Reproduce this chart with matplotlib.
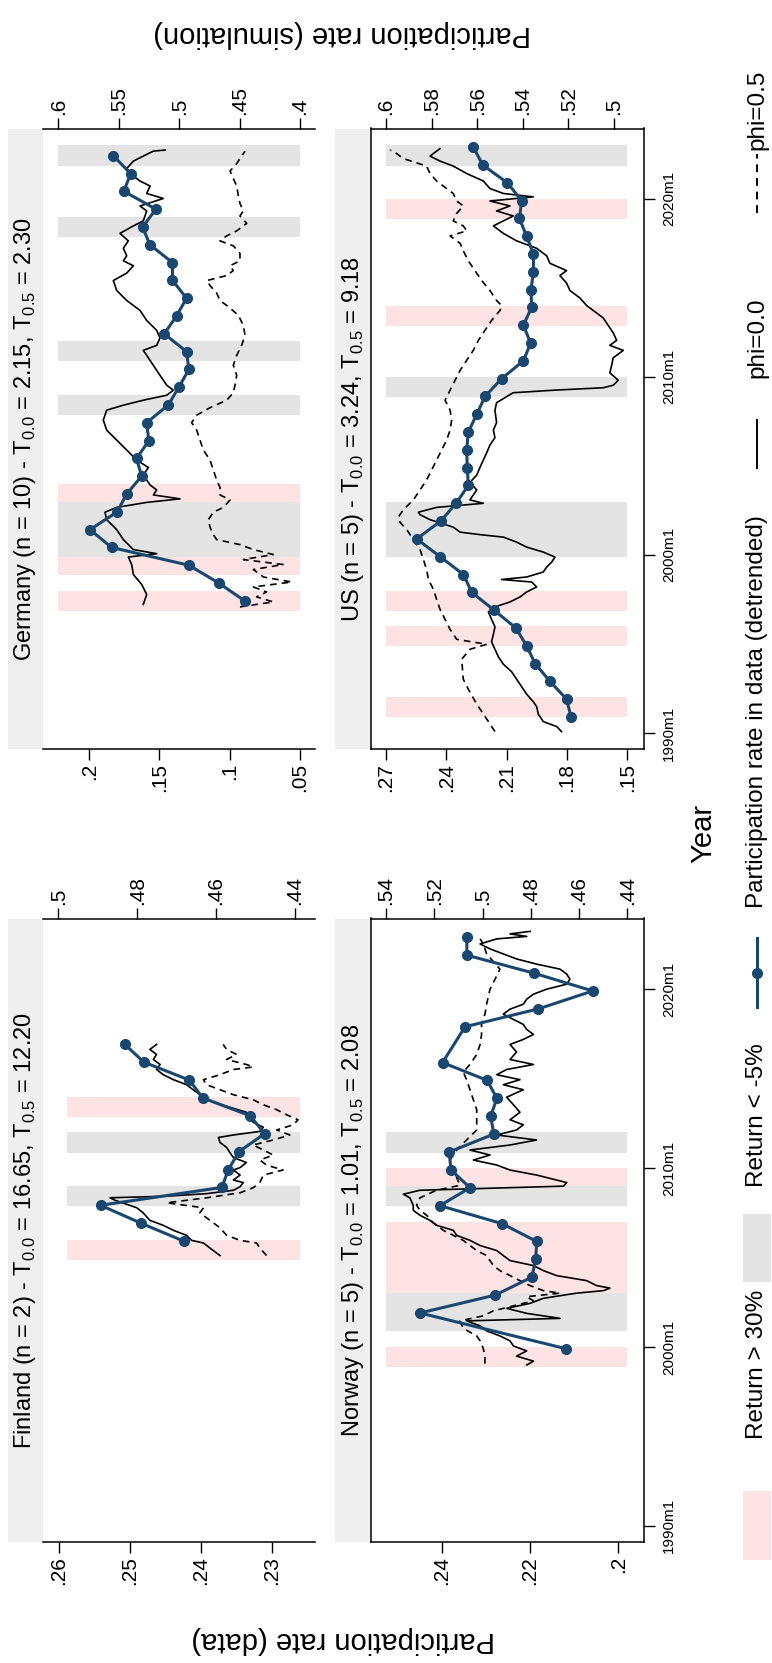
import matplotlib
matplotlib.use('Agg')
import matplotlib.pyplot as plt
from matplotlib.patches import Rectangle
from matplotlib.lines import Line2D

plt.rcParams['font.family'] = ['Liberation Sans', 'DejaVu Sans']

# ---------------- data ----------------
time_ticks = [1990, 2000, 2010, 2020]
time_labels = ['1990m1', '2000m1', '2010m1', '2020m1']

# Germany
de_years = list(range(1997, 2023))
de_data = [.0892, .1077, .1290, .1841, .1995, .1801, .1734, .1627, .1663, .1575, .1592, .1437, .1362,
           .1290, .1307, .1466, .1378, .1307, .1407, .1407, .1568, .1620, .1525, .1753, .1706, .1829]
de_phi0 = [(1997.22,.5297),(1997.78,.5269),(1998.34,.5310),(1998.90,.5379),(1999.46,.5393),(1999.88,.5421),
           (2000.07,.5186),(2000.30,.5379),(2000.86,.5462),(2001.42,.5517),(2001.98,.5600),(2002.40,.5614),
           (2002.67,.5517),(2002.95,.5269),(2003.15,.4993),(2003.37,.5214),(2003.65,.5186),(2003.93,.5241),
           (2004.49,.5297),(2004.91,.5255),(2005.33,.5352),(2005.89,.5434),(2006.45,.5517),(2007.01,.5600),
           (2007.57,.5628),(2008.13,.5600),(2008.41,.5462),(2008.69,.5297),(2008.97,.5103),(2009.25,.5048),
           (2009.53,.5103),(2010.09,.5159),(2010.65,.5214),(2011.21,.5269),(2011.49,.5297),(2011.77,.5186),
           (2012.19,.5159),(2012.61,.5186),(2013.17,.5269),(2013.73,.5324),(2014.29,.5434),(2014.85,.5517),
           (2015.41,.5545),(2015.83,.5434),(2016.24,.5379),(2016.52,.5462),(2016.80,.5434),(2017.22,.5462),
           (2017.64,.5421),(2018.06,.5490),(2018.48,.5379),(2018.76,.5297),(2019.32,.5269),(2019.60,.5324),
           (2020.02,.5131),(2020.30,.5269),(2020.72,.5241),(2021.00,.5324),(2021.28,.5379),(2021.70,.5434),
           (2022.12,.5379),(2022.40,.5297),(2022.68,.5214),(2022.74,.5117)]
de_phi5 = [(1997.08,.4497),(1997.36,.4221),(1997.64,.4359),(1997.92,.4276),(1998.20,.4386),(1998.48,.4069),
           (1998.76,.4303),(1999.18,.4386),(1999.46,.4138),(1999.74,.4469),(2000.02,.4221),(2000.30,.4386),
           (2000.58,.4497),(2000.86,.4690),(2001.14,.4717),(2001.56,.4745),(2001.98,.4759),(2002.40,.4717),
           (2002.67,.4634),(2003.09,.4579),(2003.37,.4662),(2003.79,.4662),(2004.21,.4690),(2004.77,.4717),
           (2005.33,.4745),(2005.89,.4800),(2006.45,.4828),(2007.01,.4855),(2007.43,.4897),(2007.85,.4855),
           (2008.27,.4745),(2008.69,.4607),(2009.11,.4552),(2009.53,.4538),(2010.09,.4524),(2010.65,.4552),
           (2011.21,.4524),(2011.77,.4483),(2012.33,.4455),(2012.89,.4469),(2013.45,.4510),(2013.87,.4579),
           (2014.29,.4662),(2014.71,.4690),(2015.13,.4745),(2015.41,.4772),(2015.69,.4607),(2015.97,.4552),
           (2016.24,.4579),(2016.52,.4497),(2016.94,.4497),(2017.36,.4552),(2017.64,.4662),(2017.92,.4607),
           (2018.20,.4524),(2018.62,.4441),(2019.04,.4497),(2019.32,.4469),(2019.74,.4497),(2020.16,.4510),
           (2020.72,.4524),(2021.14,.4552),(2021.56,.4579),(2021.98,.4524),(2022.26,.4497),(2022.68,.4455)]
de_pink = [1997, 1999, 2003]
de_grey = [2000, 2001, 2002, 2008, 2011, 2018, 2022]

# US
us_years = list(range(1990, 2023))
us_data = [.1780, .1802, .1885, .1959, .2001, .2055, .2163, .2274, .2315, .2431, .2548, .2428, .2352,
           .2291, .2296, .2299, .2291, .2249, .2208, .2125, .2017, .1981, .2017, .1976, .1979, .1967,
           .1967, .2001, .2037, .2025, .2097, .2219, .2266]
us_phi0 = [(1990.08,.5230),(1990.36,.5251),(1990.64,.5310),(1991.06,.5332),(1991.48,.5339),(1991.76,.5354),
           (1992.18,.5383),(1992.60,.5405),(1993.02,.5427),(1993.44,.5449),(1993.86,.5485),(1994.28,.5507),
           (1994.70,.5522),(1995.12,.5537),(1995.54,.5529),(1995.96,.5522),(1996.38,.5537),(1996.80,.5551),
           (1997.08,.5522),(1997.36,.5456),(1997.64,.5412),(1997.92,.5383),(1998.20,.5339),(1998.48,.5361),
           (1998.62,.5493),(1998.76,.5383),(1999.04,.5310),(1999.32,.5295),(1999.60,.5273),(1999.88,.5259),
           (2000.16,.5310),(2000.44,.5383),(2000.72,.5427),(2001.00,.5485),(2001.14,.5588),(2001.28,.5675),
           (2001.56,.5705),(2001.98,.5807),(2002.26,.5851),(2002.40,.5858),(2002.67,.5778),(2002.90,.5573),
           (2003.09,.5632),(2003.37,.5617),(2003.65,.5602),(2004.07,.5632),(2004.49,.5602),(2004.91,.5588),
           (2005.33,.5573),(2005.75,.5558),(2006.17,.5544),(2006.59,.5522),(2007.01,.5529),(2007.43,.5515),
           (2008.13,.5522),(2008.55,.5515),(2009.11,.5442),(2009.25,.5266),(2009.39,.5047),(2009.53,.5003),
           (2009.81,.4981),(2010.23,.5018),(2010.65,.5010),(2011.07,.5003),(2011.49,.4959),(2011.77,.5018),
           (2012.05,.4988),(2012.47,.5003),(2012.89,.5025),(2013.31,.5047),(2013.59,.5076),(2014.01,.5120),
           (2014.43,.5149),(2014.85,.5193),(2015.27,.5208),(2015.69,.5237),(2015.97,.5208),(2016.38,.5281),
           (2016.80,.5295),(2017.22,.5339),(2017.64,.5427),(2018.06,.5485),(2018.48,.5529),(2018.76,.5485),
           (2019.04,.5442),(2019.32,.5515),(2019.60,.5456),(2019.88,.5544),(2020.11,.5354),(2020.30,.5485),
           (2020.58,.5544),(2021.00,.5573),(2021.42,.5646),(2021.84,.5705),(2022.12,.5763),(2022.40,.5807),
           (2022.68,.5778),(2022.82,.5763)]
us_phi5 = [(1990.08,.5522),(1990.78,.5558),(1991.62,.5602),(1992.46,.5639),(1993.02,.5661),(1994.14,.5668),
           (1994.70,.5632),(1994.98,.5558),(1995.26,.5690),(1995.82,.5719),(1996.38,.5741),(1996.94,.5763),
           (1997.50,.5778),(1998.06,.5792),(1998.62,.5814),(1999.18,.5822),(1999.74,.5836),(2000.30,.5851),
           (2000.86,.5880),(2001.42,.5909),(2001.84,.5939),(2002.12,.5946),(2002.54,.5924),(2003.09,.5880),
           (2003.65,.5851),(2004.21,.5822),(2004.77,.5800),(2005.33,.5778),(2005.89,.5756),(2006.45,.5734),
           (2007.01,.5719),(2007.57,.5712),(2008.13,.5719),(2008.69,.5741),(2009.25,.5719),(2009.81,.5697),
           (2010.37,.5675),(2010.93,.5646),(2011.49,.5617),(2012.05,.5595),(2012.61,.5566),(2013.17,.5537),
           (2013.73,.5500),(2014.01,.5493),(2014.29,.5515),(2014.85,.5544),(2015.41,.5580),(2015.97,.5610),
           (2016.52,.5639),(2017.08,.5661),(2017.50,.5675),(2017.92,.5719),(2018.20,.5646),(2018.48,.5661),
           (2018.76,.5705),(2019.18,.5690),(2019.60,.5661),(2019.88,.5690),(2020.30,.5705),(2020.72,.5749),
           (2021.00,.5778),(2021.42,.5807),(2021.84,.5822),(2022.26,.5924),(2022.54,.5953),(2022.74,.5982)]
us_pink = [1991, 1995, 1997, 2013, 2019]
us_grey = [2000, 2001, 2002, 2009, 2022]

# Finland
fi_years = list(range(2005, 2017))
fi_data = [.2424, .2484, .2541, .2370, .2361, .2346, .2310, .2330, .2397, .2416, .2480, .2507]
fi_phi0 = [(2005.11,.4590),(2005.39,.4607),(2005.81,.4632),(2005.96,.4662),(2006.24,.4675),(2006.52,.4708),
           (2006.80,.4734),(2007.08,.4768),(2007.50,.4785),(2007.78,.4801),(2008.20,.4856),(2008.34,.4869),
           (2008.43,.4725),(2008.57,.4624),(2008.76,.4556),(2008.96,.4539),(2009.19,.4531),(2009.33,.4556),
           (2009.61,.4539),(2009.89,.4556),(2010.03,.4539),(2010.31,.4523),(2010.59,.4556),(2010.87,.4565),
           (2011.15,.4573),(2011.43,.4590),(2011.71,.4594),(2011.85,.4556),(2012.05,.4489),(2012.28,.4480),
           (2012.56,.4506),(2012.84,.4514),(2013.12,.4523),(2013.40,.4565),(2013.68,.4607),(2014.10,.4641),
           (2014.38,.4658),(2014.66,.4675),(2014.94,.4708),(2015.22,.4734),(2015.51,.4751),(2015.79,.4742),
           (2016.07,.4759),(2016.35,.4751),(2016.63,.4768),(2016.91,.4751)]
fi_phi5 = [(2005.11,.4472),(2005.53,.4489),(2005.81,.4497),(2005.96,.4539),(2006.24,.4573),(2006.66,.4590),
           (2006.94,.4607),(2007.22,.4624),(2007.50,.4641),(2007.78,.4632),(2008.06,.4725),(2008.34,.4624),
           (2008.62,.4539),(2008.90,.4506),(2009.19,.4489),(2009.61,.4480),(2009.89,.4430),(2010.17,.4472),
           (2010.45,.4489),(2010.73,.4455),(2011.01,.4480),(2011.29,.4506),(2011.57,.4455),(2011.85,.4413),
           (2012.13,.4446),(2012.42,.4404),(2012.70,.4392),(2012.98,.4421),(2013.26,.4446),(2013.54,.4480),
           (2013.82,.4506),(2014.10,.4556),(2014.38,.4590),(2014.66,.4624),(2014.94,.4632),(2015.22,.4590),
           (2015.51,.4556),(2015.65,.4506),(2015.79,.4523),(2016.07,.4573),(2016.35,.4548),(2016.63,.4573),
           (2016.91,.4582)]
fi_pink = [2005, 2013]
fi_grey = [2008, 2011]

# Norway
no_years = [1999] + list(range(2001, 2016)) + list(range(2017, 2023))
no_data = [.2118, .2449, .2279, .2196, .2187, .2185, .2264, .2404, .2336, .2379, .2383, .2282, .2289,
           .2275, .2297, .2398, .2347, .2181, .2058, .2192, .2343, .2343]
no_phi0 = [(1998.99,.4817),(1999.21,.4789),(1999.49,.4859),(1999.78,.4817),(2000.06,.4872),(2000.34,.4886),
           (2000.62,.4928),(2000.90,.4983),(2001.18,.5010),(2001.46,.5066),(2001.60,.4679),(2001.88,.4817),
           (2002.16,.4900),(2002.44,.4803),(2002.72,.4748),(2003.01,.4610),(2003.15,.4499),(2003.29,.4472),
           (2003.43,.4527),(2003.71,.4569),(2003.99,.4693),(2004.27,.4748),(2004.55,.4789),(2004.83,.4886),
           (2005.11,.4914),(2005.39,.4941),(2005.67,.5010),(2005.96,.5052),(2006.24,.5107),(2006.52,.5121),
           (2006.80,.5190),(2007.08,.5218),(2007.36,.5259),(2007.64,.5287),(2007.92,.5287),(2008.34,.5301),
           (2008.54,.5328),(2008.76,.5259),(2008.99,.4665),(2009.19,.4651),(2009.61,.4776),(2009.89,.4886),
           (2010.17,.4941),(2010.45,.5038),(2010.73,.4969),(2011.01,.5052),(2011.29,.4886),(2011.57,.4776),
           (2011.85,.4941),(2012.13,.4859),(2012.42,.4831),(2012.70,.4886),(2013.12,.4845),(2013.54,.4872),
           (2013.96,.4900),(2014.38,.4831),(2014.66,.4914),(2014.94,.4845),(2015.22,.4941),(2015.51,.4900),
           (2015.79,.4789),(2016.07,.4886),(2016.49,.4859),(2016.91,.4886),(2017.19,.4831),(2017.47,.4789),
           (2017.75,.4817),(2018.03,.4831),(2018.31,.4872),(2018.60,.4914),(2018.88,.4886),(2019.16,.4831),
           (2019.44,.4817),(2019.72,.4789),(2020.00,.4734),(2020.28,.4651),(2020.56,.4638),(2020.84,.4651),
           (2021.12,.4679),(2021.40,.4776),(2021.69,.4859),(2021.97,.4914),(2022.25,.4969),(2022.53,.5010),
           (2022.81,.4941),(2022.95,.4817),(2023.09,.4886),(2023.23,.4803)]
no_phi5 = [(1999.07,.4990),(1999.49,.4990),(1999.92,.4997),(2000.34,.5010),(2000.62,.5024),(2001.04,.5080),
           (2001.46,.5093),(2001.74,.4997),(2002.02,.4955),(2002.30,.4872),(2002.58,.4789),(2002.81,.4817),
           (2003.01,.4679),(2003.15,.4748),(2003.43,.4803),(2003.71,.4845),(2003.99,.4886),(2004.27,.4928),
           (2004.55,.4955),(2004.83,.4969),(2005.11,.4983),(2005.39,.5024),(2005.67,.5052),(2005.96,.5080),
           (2006.24,.5121),(2006.52,.5162),(2006.94,.5204),(2007.36,.5231),(2007.64,.5259),(2007.92,.5273),
           (2008.34,.5259),(2008.76,.5190),(2009.04,.5093),(2009.47,.5107),(2009.89,.5121),(2010.45,.5135),
           (2011.01,.5107),(2011.57,.5066),(2012.13,.5024),(2012.70,.5024),(2013.26,.5024),(2013.82,.5038),
           (2014.38,.5052),(2014.94,.5066),(2015.37,.5080),(2015.79,.5052),(2016.35,.5024),(2016.91,.5010),
           (2017.47,.5004),(2018.03,.5004),(2018.60,.4990),(2019.16,.4983),(2020.00,.4969),(2020.56,.4948),
           (2021.12,.4928),(2021.54,.4955),(2021.97,.4983),(2022.53,.4997),(2022.81,.5010)]
no_pink = [1999, 2003, 2004, 2005, 2006, 2009]
no_grey = [2001, 2002, 2008, 2011]

# ---------------- style / layout ----------------
W, H = 772, 1663
BLUE = '#1a476f'
PINK = '#fde3e3'
GREY = '#e4e4e4'
STRIP = '#efefef'
TIME_LIM = (1989.1, 2023.95)
BAND_LO, BAND_HI = -0.13, 1.0

fig = plt.figure(figsize=(W / 100, H / 100), dpi=100)

def fx(x):
    return x / W

def fy(y):
    return 1 - y / H

def sub(a, b):
    return 'T$_{\\mathregular{%s}}$ = %s' % (a, b)

panels = [
    dict(title='Germany (n = 10) - ' + sub('0.0', '2.15') + ', ' + sub('0.5', '2.30'),
         box=(43, 128.5, 315, 749), strip=(8, 43),
         years=de_years, toff=0.42, data=de_data, phi0=de_phi0, phi5=de_phi5,
         pink=de_pink, grey=de_grey,
         dlim=(.2330, .0391), dticks=[.2, .15, .1, .05], dlabels=['.2', '.15', '.1', '.05'],
         slim=(.6127, .3876), sticks=[.6, .55, .5, .45, .4], slabels=['.6', '.55', '.5', '.45', '.4'],
         band=(0.055, 0.945), right=False),
    dict(title='US (n = 5) - ' + sub('0.0', '3.24') + ', ' + sub('0.5', '9.18'),
         box=(371, 128.5, 644, 749), strip=(335, 371),
         years=us_years, toff=0.9, data=us_data, phi0=us_phi0, phi5=us_phi5,
         pink=us_pink, grey=us_grey,
         dlim=(.2775, .1417), dticks=[.27, .24, .21, .18, .15], dlabels=['.27', '.24', '.21', '.18', '.15'],
         slim=(.6066, .4868), sticks=[.6, .58, .56, .54, .52, .5], slabels=['.6', '.58', '.56', '.54', '.52', '.5'],
         band=(0.055, 0.938), right=True),
    dict(title='Finland (n = 2) - ' + sub('0.0', '16.65') + ', ' + sub('0.5', '12.20'),
         box=(43, 918.5, 315, 1542), strip=(8, 43),
         years=fi_years, toff=0.92, data=fi_data, phi0=fi_phi0, phi5=fi_phi5,
         pink=fi_pink, grey=fi_grey,
         dlim=(.2622, .2239), dticks=[.26, .25, .24, .23], dlabels=['.26', '.25', '.24', '.23'],
         slim=(.5039, .4349), sticks=[.5, .48, .46, .44], slabels=['.5', '.48', '.46', '.44'],
         band=(0.088, 0.945), right=False),
    dict(title='Norway (n = 5) - ' + sub('0.0', '1.01') + ', ' + sub('0.5', '2.08'),
         box=(371, 918.5, 644, 1542), strip=(335, 371),
         years=no_years, toff=0.9, data=no_data, phi0=no_phi0, phi5=no_phi5,
         pink=no_pink, grey=no_grey,
         dlim=(.2560, .1942), dticks=[.24, .22, .2], dlabels=['.24', '.22', '.2'],
         slim=(.5462, .4331), sticks=[.54, .52, .5, .48, .46, .44], slabels=['.54', '.52', '.5', '.48', '.46', '.44'],
         band=(0.055, 0.938), right=True),
]

TICK_FS = 15
for p in panels:
    x0, y0, x1, y1 = p['box']
    # title strip
    s0, s1 = p['strip']
    fig.add_artist(Rectangle((fx(s0), fy(y1)), fx(s1) - fx(s0), fy(y0) - fy(y1),
                             transform=fig.transFigure, facecolor=STRIP, edgecolor='none', zorder=0))
    fig.text(fx((s0 + s1) / 2), fy((y0 + y1) / 2), p['title'], rotation=90,
             ha='center', va='center', fontsize=17)

    ax_s = fig.add_axes([fx(x0), fy(y1), fx(x1) - fx(x0), fy(y0) - fy(y1)])
    ax_d = ax_s.twiny()
    ax_s.patch.set_visible(False)

    # shaded return bands
    for yr in p['pink']:
        ax_s.axhspan(yr + BAND_LO, yr + BAND_HI, xmin=p['band'][0], xmax=p['band'][1],
                     facecolor=PINK, edgecolor='none', zorder=0)
    for yr in p['grey']:
        ax_s.axhspan(yr + BAND_LO, yr + BAND_HI, xmin=p['band'][0], xmax=p['band'][1],
                     facecolor=GREY, edgecolor='none', zorder=0.5)

    # simulation lines
    t0 = [a for a, b in p['phi0']]
    v0 = [b for a, b in p['phi0']]
    t5 = [a for a, b in p['phi5']]
    v5 = [b for a, b in p['phi5']]
    ax_s.plot(v0, t0, color='black', lw=1.2, zorder=2)
    ax_s.plot(v5, t5, color='black', lw=1.2, linestyle=(0, (4, 3)), zorder=2)

    # data series
    td = [y + p['toff'] for y in p['years']]
    ax_d.plot(p['data'], td, color=BLUE, lw=2.2, marker='o', markersize=7,
              markerfacecolor=BLUE, markeredgecolor=BLUE, zorder=3)

    ax_s.set_xlim(*p['slim'])
    ax_d.set_xlim(*p['dlim'])
    ax_s.set_ylim(*TIME_LIM)

    # sim axis on top
    ax_s.xaxis.tick_top()
    ax_s.set_xticks(p['sticks'])
    ax_s.set_xticklabels(p['slabels'])
    ax_s.tick_params(axis='x', which='both', top=True, bottom=False, labeltop=True, labelbottom=False,
                     direction='out', length=8, width=1, pad=2, labelsize=TICK_FS, labelrotation=90)
    # data axis at bottom
    ax_d.xaxis.tick_bottom()
    ax_d.set_xticks(p['dticks'])
    ax_d.set_xticklabels(p['dlabels'])
    ax_d.tick_params(axis='x', which='both', bottom=True, top=False, labelbottom=True, labeltop=False,
                     direction='out', length=8, width=1, pad=2, labelsize=TICK_FS, labelrotation=90)

    for sp in ax_d.spines.values():
        sp.set_visible(False)
    ax_d.spines['bottom'].set_visible(True)
    ax_d.spines['bottom'].set_linewidth(1.1)
    ax_s.spines['bottom'].set_visible(False)
    ax_s.spines['top'].set_linewidth(1.1)

    if p['right']:
        ax_s.yaxis.tick_right()
        ax_s.set_yticks(time_ticks)
        ax_s.set_yticklabels(time_labels, family=['Liberation Sans Narrow', 'Liberation Sans'])
        ax_s.tick_params(axis='y', right=True, left=False, labelright=True, labelleft=False,
                         direction='out', length=8, width=1, pad=5, labelsize=11, labelrotation=90)
        for lab in ax_s.get_yticklabels():
            lab.set_verticalalignment('center')
        ax_s.spines['right'].set_linewidth(1.1)
        ax_s.spines['left'].set_linewidth(1.1)
    else:
        ax_s.set_yticks([])
        ax_s.spines['left'].set_visible(False)
        ax_s.spines['right'].set_visible(False)

# axis titles
fig.text(fx(342), fy(34), 'Participation rate (simulation)', rotation=180, ha='center', va='center', fontsize=21)
fig.text(fx(343), fy(1640), 'Participation rate (data)', rotation=180, ha='center', va='center', fontsize=21)
fig.text(fx(703), fy(833), 'Year', rotation=90, ha='center', va='center', fontsize=21)

# legend (rotated)
LX = 757
LFS = 17.5
fig.add_artist(Rectangle((fx(743), fy(1560)), fx(771) - fx(743), fy(1491) - fy(1560),
                         transform=fig.transFigure, facecolor=PINK, edgecolor='none'))
fig.text(fx(LX), fy(1364), 'Return > 30%', rotation=90, ha='center', va='center', fontsize=LFS)
fig.add_artist(Rectangle((fx(743), fy(1282)), fx(771) - fx(743), fy(1214) - fy(1282),
                         transform=fig.transFigure, facecolor=GREY, edgecolor='none'))
fig.text(fx(LX), fy(1115), 'Return < -5%', rotation=90, ha='center', va='center', fontsize=LFS)
fig.add_artist(Line2D([fx(LX), fx(LX)], [fy(1007), fy(938)], transform=fig.transFigure, color=BLUE, lw=2.2))
fig.add_artist(Line2D([fx(LX)], [fy(973)], transform=fig.transFigure, color=BLUE, marker='o', markersize=7))
fig.text(fx(LX), fy(712), 'Participation rate in data (detrended)', rotation=90, ha='center', va='center', fontsize=LFS)
fig.add_artist(Line2D([fx(LX), fx(LX)], [fy(468), fy(420)], transform=fig.transFigure, color='black', lw=1.4))
fig.text(fx(LX), fy(338), 'phi=0.0', rotation=90, ha='center', va='center', fontsize=LFS)
fig.add_artist(Line2D([fx(LX), fx(LX)], [fy(213), fy(154)], transform=fig.transFigure, color='black', lw=1.4,
                      linestyle=(0, (4, 3))))
fig.text(fx(LX), fy(110), 'phi=0.5', rotation=90, ha='center', va='center', fontsize=LFS)

fig.savefig('out.png', dpi=100)
